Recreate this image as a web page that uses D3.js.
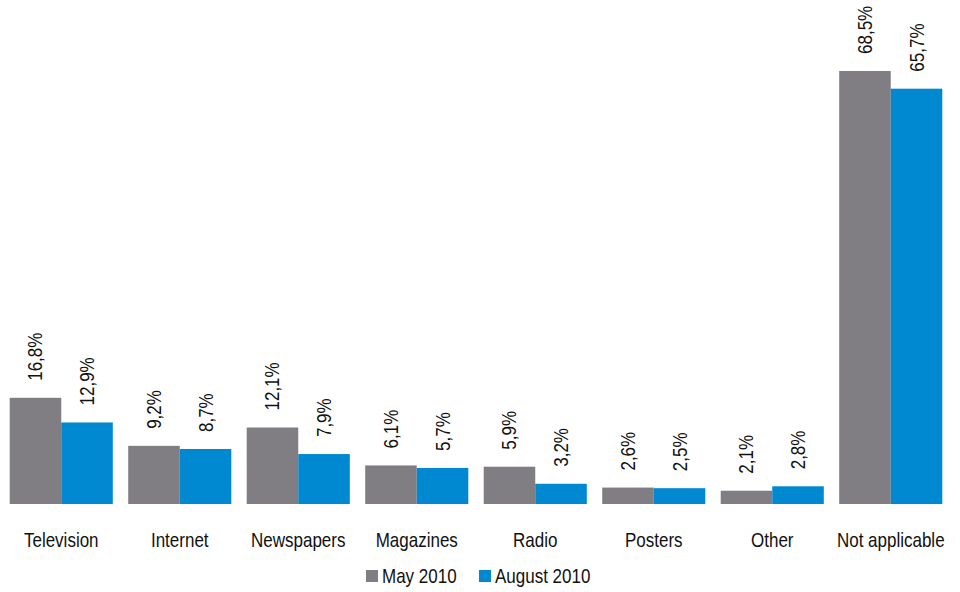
<!DOCTYPE html>
<html>
<head>
<meta charset="utf-8">
<script src="https://cdn.jsdelivr.net/npm/d3@7"></script>
<style>
  body { margin: 0; background: #fff; }
  svg text { font-family: "Liberation Sans Narrow", "Arial Narrow", "Liberation Sans", Arial, sans-serif; fill: #111; }
</style>
</head>
<body>
<svg id="chart" width="960" height="592"></svg>
<script>
const categories = ["Television", "Internet", "Newspapers", "Magazines", "Radio", "Posters", "Other", "Not applicable"];
const seriesNames = ["May 2010", "August 2010"];
const may2010 = [16.8, 9.2, 12.1, 6.1, 5.9, 2.6, 2.1, 68.5];
const aug2010 = [12.9, 8.7, 7.9, 5.7, 3.2, 2.5, 2.8, 65.7];
const colors = ["#807e82", "#0088d1"];

const svg = d3.select("#chart");
const baseY = 504;
const squeeze = 0.85; // narrow look, no condensed face installed

const x0 = d3.scaleBand().domain(categories).range([2, 950]).paddingInner(0.13).paddingOuter(0.065);
const x1 = d3.scaleBand().domain(seriesNames).range([0, x0.bandwidth()]);
const y = d3.scaleLinear().domain([0, 70]).range([baseY, 61.5]);
const color = d3.scaleOrdinal().domain(seriesNames).range(colors);

const rows = categories.map((c, i) => ({cat: c, vals: [
  {s: seriesNames[0], v: may2010[i]},
  {s: seriesNames[1], v: aug2010[i]}
]}));

const fmt = v => d3.format(".1f")(v).replace(".", ",") + "%";

const groups = svg.selectAll("g.grp").data(rows).enter()
  .append("g").attr("class", "grp")
  .attr("transform", d => `translate(${x0(d.cat)},0)`);

groups.selectAll("rect").data(d => d.vals).enter()
  .append("rect")
  .attr("x", d => x1(d.s))
  .attr("y", d => y(d.v))
  .attr("width", x1.bandwidth())
  .attr("height", d => baseY - y(d.v))
  .attr("fill", d => color(d.s));

groups.selectAll("text.val").data(d => d.vals).enter()
  .append("text").attr("class", "val")
  .attr("transform", d => `translate(${x1(d.s) + x1.bandwidth() / 2},${y(d.v) - 17}) rotate(-90) scale(${squeeze},1)`)
  .attr("dy", "0.35em")
  .attr("font-size", 20)
  .text(d => fmt(d.v));

// category labels
svg.selectAll("text.cat").data(categories).enter()
  .append("text").attr("class", "cat")
  .attr("transform", d => `translate(${x0(d) + x0.bandwidth() / 2},547) scale(${squeeze},1)`)
  .attr("text-anchor", "middle")
  .attr("font-size", 20)
  .text(d => d);

// legend
const legendX = [366, 479];
const legend = svg.selectAll("g.leg").data(seriesNames).enter()
  .append("g").attr("class", "leg")
  .attr("transform", (d, i) => `translate(${legendX[i]},570)`);
legend.append("rect").attr("width", 12).attr("height", 12).attr("fill", d => color(d));
legend.append("text")
  .attr("transform", `translate(16,13) scale(${squeeze},1)`)
  .attr("font-size", 20).text(d => d);
</script>
</body>
</html>
